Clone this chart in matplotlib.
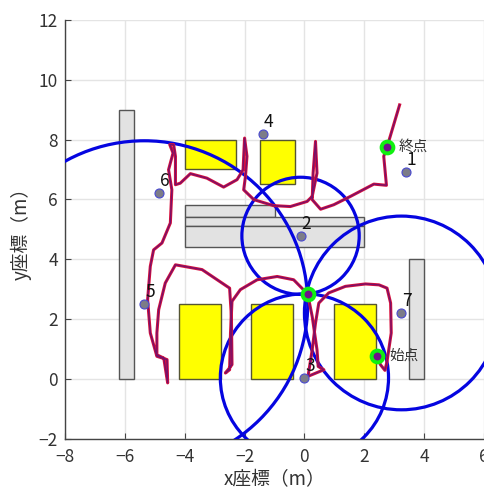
import matplotlib
matplotlib.use('Agg')
import matplotlib.pyplot as plt
from matplotlib.patches import Rectangle, Circle

plt.rcParams['font.family'] = ['Noto Sans CJK JP', 'DejaVu Sans']

anchor_ids = ['1', '2', '3', '4', '5', '6', '7']
anchor_x = [3.38, -0.13, 0.0, -1.38, -5.35, -4.85, 3.24]
anchor_y = [6.92, 4.78, 0.03, 8.19, 2.5, 6.22, 2.2]

circle_x = [-0.13, 0.0, -5.35, 3.24]
circle_y = [4.78, 0.03, 2.5, 2.2]
circle_r = [1.96, 2.81, 5.46, 3.24]

grey_rects = [(-6.2, 0, 0.5, 9), (-4, 5.4, 3, 0.4), (-4, 5.1, 6, 0.3),
              (-4, 4.4, 6, 0.7), (3.5, 0, 0.5, 4)]
yellow_rects = [(-4.2, 0, 1.4, 2.5), (-1.8, 0, 1.42, 2.5), (1, 0, 1.4, 2.5),
                (-4, 7, 1.7, 1), (-1.5, 6.5, 1.2, 1.5)]

ring_x = [2.43, 0.11, 2.77]
ring_y = [0.77, 2.84, 7.76]
ring_labels = [(2.84, 0.77, '始点'), (3.14, 7.76, '終点')]

path_x = [2.43, 2.54, 2.69, 2.76, 2.90, 2.88, 2.76, 2.49, 2.04, 1.37, 0.81, 0.48, 0.37, 0.26, 0.12,
          0.65, 0.46, 0.42, 0.26, 0.11,
          -0.36, -0.91, -1.58, -2.14, -2.42, -2.47, -2.50, -2.64, -2.42, -2.44, -2.50, -3.42, -4.31,
          -4.65, -4.87, -4.93, -4.93, -4.70, -4.57, -4.59, -4.93, -5.15, -5.24, -5.15, -5.04,
          -4.76, -4.48, -4.43, -4.54, -4.39, -4.50, -4.37, -4.31, -4.31, -4.15, -3.81, -3.26, -2.70,
          -2.25, -2.05, -2.0, -1.92, -1.97, -2.03, -1.69, -1.03, -0.47, 0.09,
          0.26, 0.42, 0.37, 0.29, 0.26, 0.54, 0.98, 1.54, 2.32, 2.74, 2.65, 2.76, 3.18]
path_y = [0.77, 0.47, 0.28, 0.58, 1.53, 2.53, 3.03, 3.14, 3.17, 3.09, 2.87, 2.53, 1.86, 0.97, 0.08,
          0.30, 0.41, 0.97, 2.08, 2.83,
          3.31, 3.42, 3.31, 2.98, 2.59, 1.53, 0.30, 0.19, 0.47, 2.08, 3.03, 3.65, 3.81,
          3.20, 2.31, 1.53, 0.80, 0.69, -0.14, 0.64, 0.75, 1.53, 2.64, 3.76, 4.31,
          4.54, 5.21, 6.32, 6.99, 7.55, 7.83, 7.83, 7.44, 6.49, 6.54, 6.86, 6.71, 6.41,
          6.66, 6.99, 8.05, 7.44, 6.77, 6.32, 5.99, 5.79, 5.76, 5.93,
          6.10, 6.88, 7.94, 6.88, 5.99, 5.67, 5.82, 6.10, 6.51, 6.47, 7.44, 7.75, 9.16]

xticks = list(range(-8, 7, 2))
yticks = list(range(-2, 13, 2))
tick_text = lambda vals: [str(v).replace('-', '\u2212') for v in vals]

W, H = 485, 488
fig = plt.figure(figsize=(W / 100, H / 100), dpi=100)
ax = fig.add_axes([65 / W, 1 - 438.5 / H, 419 / W, 418.5 / H])
ax.set_xlim(-8, 6)
ax.set_ylim(-2, 12)

for x, y, w, h in grey_rects:
    ax.add_patch(Rectangle((x, y), w, h, fc='#e2e2e2', ec='#555555', lw=1, zorder=2))
for x, y, w, h in yellow_rects:
    ax.add_patch(Rectangle((x, y), w, h, fc='#ffff00', ec='#555533', lw=1, zorder=2))

for x, y, r in zip(circle_x, circle_y, circle_r):
    ax.add_patch(Circle((x, y), r, fc='none', ec='#0505e0', lw=2.3, zorder=3))

ax.plot(path_x, path_y, color='#d8103c', lw=2.2, solid_joinstyle='round', zorder=4)
ax.plot(path_x, path_y, color='#78106a', lw=1.0, solid_joinstyle='round', zorder=4.1)

ax.plot(anchor_x, anchor_y, 'o', ms=6.5, mfc='#7c7c88', mec='#4a4ad0', mew=0.8, zorder=5)
for name, x, y in zip(anchor_ids, anchor_x, anchor_y):
    ax.text(x + 0.03, y + 0.1, name, fontsize=12.5, ha='left', va='bottom', color='#111111', zorder=6)

ax.plot(ring_x, ring_y, 'o', ms=8.5, mfc='#70108a', mec='#10f010', mew=2.8, zorder=6)
for x, y, s in ring_labels:
    ax.text(x, y, s, fontsize=10.5, ha='left', va='center', color='#333333', zorder=6)

ax.set_xticks(xticks, tick_text(xticks))
ax.set_yticks(yticks, tick_text(yticks))
ax.grid(True, color='#e4e4e4', lw=1)
ax.set_axisbelow(True)
ax.tick_params(direction='in', length=4, width=0.8, color='#444444',
               labelcolor='#333333', labelsize=12.5)
ax.tick_params(axis='x', pad=7)
ax.tick_params(axis='y', pad=5)
for side in ('top', 'right'):
    ax.spines[side].set_visible(False)
for side in ('left', 'bottom'):
    ax.spines[side].set_color('#444444')
    ax.spines[side].set_linewidth(1)
ax.set_xlabel('x座標（m）', fontsize=13.5, color='#333333', labelpad=2)
ax.set_ylabel('y座標（m）', fontsize=13.5, color='#333333', labelpad=5)

fig.savefig('out.png', dpi=100)
